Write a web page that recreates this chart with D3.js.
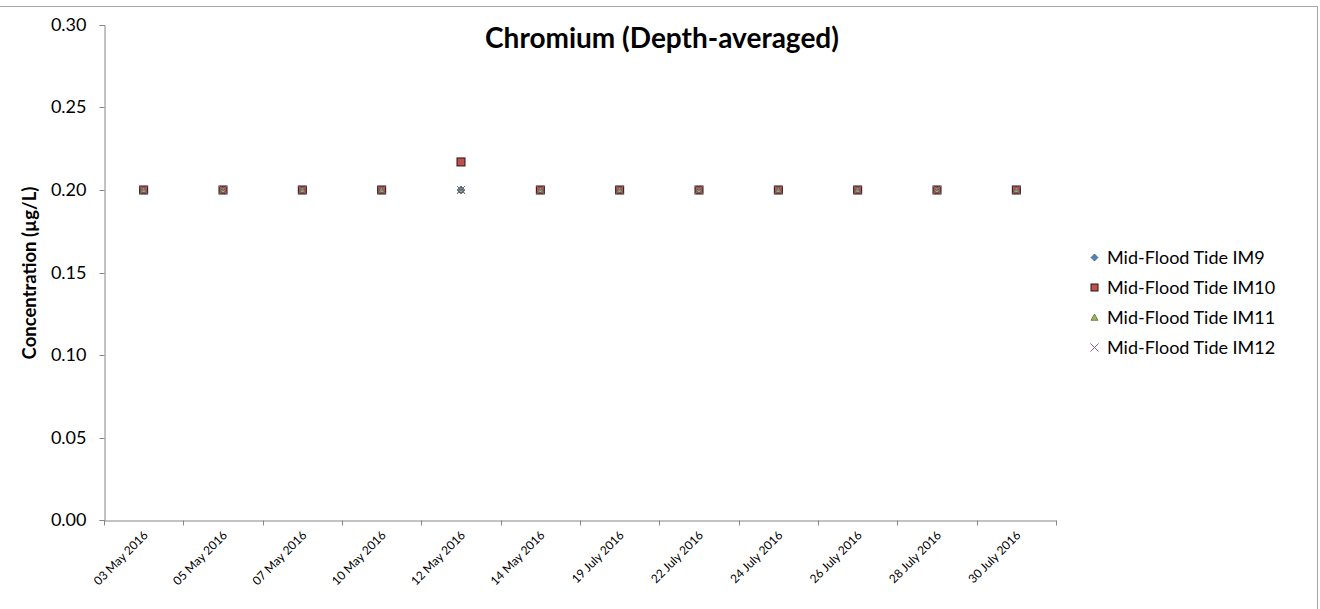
<!DOCTYPE html>
<html><head><meta charset="utf-8">
<script src="https://cdn.jsdelivr.net/npm/d3@7"></script>
<style>
html,body{margin:0;padding:0;background:#fff;}
svg{display:block;}
text{font-family:Lato,"Open Sans",sans-serif;fill:#000;}
</style></head>
<body>
<svg id="c" width="1320" height="609"></svg>
<script>
const categories = ["03 May 2016","05 May 2016","07 May 2016","10 May 2016","12 May 2016","14 May 2016","19 July 2016","22 July 2016","24 July 2016","26 July 2016","28 July 2016","30 July 2016"];
const seriesNames = ["Mid-Flood Tide IM9","Mid-Flood Tide IM10","Mid-Flood Tide IM11","Mid-Flood Tide IM12"];
const im9  = [0.20,0.20,0.20,0.20,0.20,0.20,0.20,0.20,0.20,0.20,0.20,0.20];
const im10 = [0.20,0.20,0.20,0.20,0.217,0.20,0.20,0.20,0.20,0.20,0.20,0.20];
const im11 = [0.20,0.20,0.20,0.20,0.20,0.20,0.20,0.20,0.20,0.20,0.20,0.20];
const im12 = [0.20,0.20,0.20,0.20,0.20,0.20,0.20,0.20,0.20,0.20,0.20,0.20];
const yTicks = [0,0.05,0.10,0.15,0.20,0.25,0.30];

const svg = d3.select("#c");
// chart border
svg.append("rect").attr("x",-2).attr("y",6.5).attr("width",1319.5).attr("height",620)
  .attr("fill","none").attr("stroke","#a6a6a6").attr("stroke-width",1);

const x = d3.scaleBand().domain(categories).range([104,1056]);
const y = d3.scaleLinear().domain([0,0.30]).range([520,25]);

// y axis
const ya = svg.append("g").attr("transform","translate(104.5,0)")
  .call(d3.axisLeft(y).tickValues(yTicks).tickFormat(d3.format(".2f")).tickSize(5).tickPadding(13));
ya.select(".domain").attr("stroke","#868686");
ya.selectAll(".tick line").attr("stroke","#868686");
ya.selectAll(".tick text").attr("font-size","18px").attr("font-family","Lato,'Open Sans',sans-serif");
ya.selectAll(".tick").attr("transform", d=>`translate(0,${Math.round(y(d))+0.5})`);

// x axis
const xa = svg.append("g").attr("transform","translate(0,520.5)")
  .call(d3.axisBottom(x).tickSize(0).tickFormat(""));
xa.select(".domain").attr("stroke","#868686");
xa.selectAll(".tick").remove();
const edges = d3.range(categories.length+1).map(i => 104 + i*x.step());
xa.selectAll("line.tk").data(edges).enter().append("line").attr("class","tk")
  .attr("x1",d=>Math.round(d)+0.5).attr("x2",d=>Math.round(d)+0.5).attr("y1",0).attr("y2",5)
  .attr("stroke","#868686");
svg.append("g").selectAll("text").data(categories).enter().append("text")
  .attr("transform", d=>`translate(${x(d)+x.bandwidth()/2+5},536) rotate(-45)`)
  .attr("text-anchor","end").attr("font-size","12px").text(d=>d);

// title
svg.append("text").attr("x",662).attr("y",48).attr("text-anchor","middle")
  .attr("font-size","28px").attr("font-weight","bold").text("Chromium (Depth-averaged)");
// y label
svg.append("text").attr("transform","translate(36,273) rotate(-90)").attr("text-anchor","middle")
  .attr("font-size","18.5px").attr("font-weight","bold").text("Concentration (µg/L)");

const colors = ["#4F81BD","#C0504D","#9BBB59","#8064A2"];
const strokes = ["#385D8A","#2a1212","#4a5a2a","#8064A2"];
const data = [im9, im10, im11, im12];

function marker(g, k, cx, cy, s) {
  if (k===0) {
    g.append("path").attr("d",`M${cx},${cy-s}L${cx+s},${cy}L${cx},${cy+s}L${cx-s},${cy}Z`)
      .attr("fill",colors[0]).attr("stroke",strokes[0]).attr("stroke-width",0.7);
  } else if (k===1) {
    g.append("rect").attr("x",cx-s).attr("y",cy-s).attr("width",2*s).attr("height",2*s)
      .attr("fill",colors[1]).attr("stroke",strokes[1]).attr("stroke-width",1);
  } else if (k===2) {
    g.append("path").attr("d",`M${cx},${cy-s}L${cx+s},${cy+s*0.8}L${cx-s},${cy+s*0.8}Z`)
      .attr("fill",colors[2]).attr("stroke",strokes[2]).attr("stroke-width",0.7);
  } else {
    g.append("path").attr("d",`M${cx-s},${cy-s}L${cx+s},${cy+s}M${cx+s},${cy-s}L${cx-s},${cy+s}`)
      .attr("fill","none").attr("stroke",colors[3]).attr("stroke-width",1);
  }
}

const pts = svg.append("g");
data.forEach((arr,k)=>{
  arr.forEach((v,i)=>{
    marker(pts, k, x(categories[i])+x.bandwidth()/2, y(v), k===2?3.2:4);
  });
});

// legend
const lg = svg.append("g");
seriesNames.forEach((n,k)=>{
  const cy = 257.5 + k*30;
  marker(lg, k, 1094.5, cy, k===3?4:3.5);
  lg.append("text").attr("x",1107).attr("y",cy+6.5).attr("font-size","18px").text(n);
});
</script>
</body></html>
